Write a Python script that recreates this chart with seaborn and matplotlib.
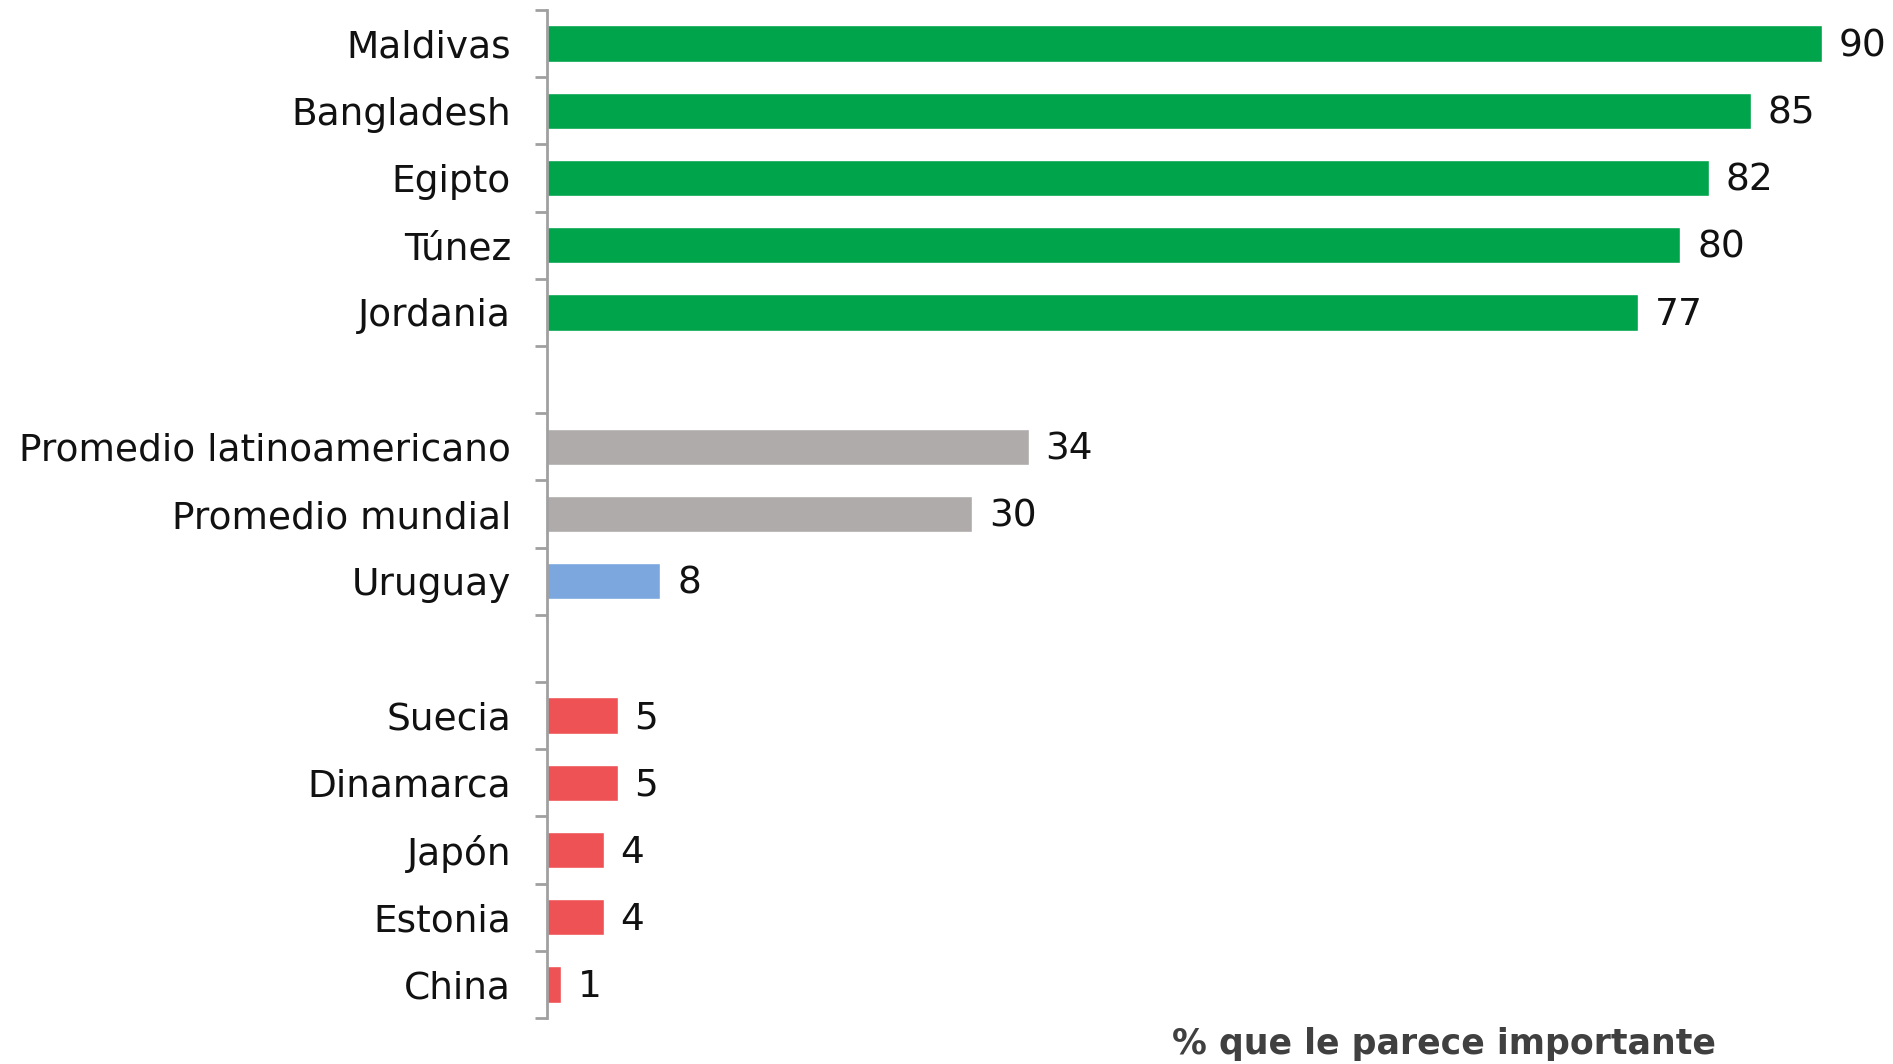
import numpy as np
import pandas as pd
import matplotlib
matplotlib.use('Agg')
import matplotlib.pyplot as plt
from matplotlib.ticker import FixedLocator
import seaborn as sns

# Datos
paises = ['Maldivas', 'Bangladesh', 'Egipto', 'Túnez', 'Jordania',
          'Promedio latinoamericano', 'Promedio mundial', 'Uruguay',
          'Suecia', 'Dinamarca', 'Japón', 'Estonia', 'China']
valores = [90, 85, 82, 80, 77, 34, 30, 8, 5, 5, 4, 4, 1]
grupos = ['alto'] * 5 + ['promedio'] * 2 + ['uruguay'] + ['bajo'] * 5
orden = paises[:5] + [' '] + paises[5:8] + ['  '] + paises[8:]
colores = {'alto': '#00A44B', 'promedio': '#AFABAB', 'uruguay': '#7BA7DE', 'bajo': '#EE5254'}

df = pd.DataFrame({'pais': paises, 'valor': valores, 'grupo': grupos})

sns.set_style('white')
plt.rcParams['font.family'] = ['DejaVu Sans']

fig = plt.figure(figsize=(18.93, 10.64), dpi=100)
ax = fig.add_axes([0.289, 0.0432, 0.711, 0.9474])

sns.barplot(data=df, y='pais', x='valor', hue='grupo', palette=colores,
            order=orden, dodge=False, width=0.54, legend=False,
            saturation=1, ax=ax)

# etiquetas de valor
for _, fila in df.iterrows():
    ax.annotate(f"{fila['valor']}", (fila['valor'], orden.index(fila['pais'])),
                xytext=(12, -2), textcoords='offset points', ha='left',
                va='center', fontsize=27, color='#111111')

ax.set_xlim(0, 95)
ax.set_ylim(len(orden) - 0.5, -0.5)
sns.despine(ax=ax, top=True, right=True, bottom=True, left=False)
ax.spines['left'].set_color('#A0A0A0')
ax.spines['left'].set_linewidth(2)
ax.set_xticks([])
ax.set_ylabel('')
ax.set_xlabel('')
ax.tick_params(axis='y', which='major', left=False, length=0, pad=26,
               labelsize=27, labelcolor='#111111')
ax.yaxis.set_minor_locator(FixedLocator(np.arange(-0.5, len(orden), 1.0)))
ax.tick_params(axis='y', which='minor', left=True, length=9, width=2, color='#A0A0A0')

fig.text(0.763, 0.019, '% que le parece importante', ha='center', va='center',
         fontsize=25, fontweight='bold', color='#404040')

fig.savefig('out.png', dpi=100)
